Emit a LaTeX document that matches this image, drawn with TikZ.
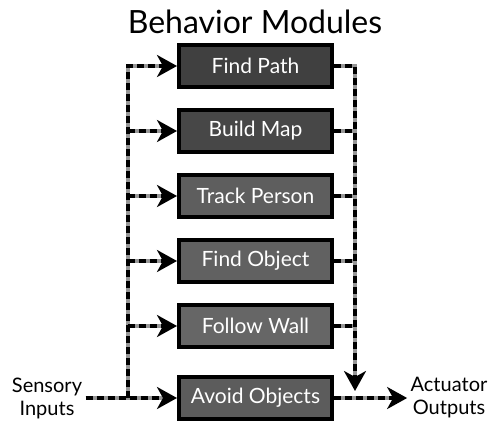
\documentclass[tikz,border=0pt]{standalone}
\usepackage{fontspec}
\setmainfont{Lato}
\usetikzlibrary{arrows.meta, positioning}
\definecolor{wiregray}{RGB}{150, 150, 150}

\begin{document}
\begin{tikzpicture}[x=1pt, y=-1pt,
            module/.style={draw=black, line width=4pt, fill=#1, minimum width=153pt, minimum height=42pt, text=white, font=\fontsize{21}{24}\selectfont},
            module/.default={black!72},
            label/.style={align=center, font=\fontsize{20}{23}\selectfont},
            wire/.style={draw=wiregray, line width=4.5pt, postaction={draw=black, line width=3.2pt, dash pattern=on 7pt off 4pt}},
            feed/.style={draw=wiregray, line width=4.5pt, shorten >=12pt, postaction={draw=black, line width=3.2pt, shorten >=0pt, dash pattern=on 7pt off 4pt, -{Stealth[length=20pt, width=22pt, inset=6pt]}}}
        ]
            \useasboundingbox (0,0) rectangle (490,424);
            \node[font=\fontsize{32}{36}\selectfont] (title) at (255,22) {Behavior Modules};

            % module stack
            \node[module=black!75] (findpath) at (255.5,66) {Find Path};
            \node[module=black!72, below=19pt of findpath] (buildmap) {Build Map};
            \node[module=black!63, below=19pt of buildmap] (trackperson) {Track Person};
            \node[module=black!62, below=19pt of trackperson] (findobject) {Find Object};
            \node[module=black!60, below=19pt of findobject] (followwall) {Follow Wall};
            \node[module=black!64, below=26pt of followwall] (avoidobjects) {Avoid Objects};

            \node[label] (inputs) at (47,398) {Sensory\\Inputs};
            \node[label] (outputs) at (449,398) {Actuator\\Outputs};

            \coordinate (lbus) at (128,398);
            \coordinate (rbus) at (355,398);
            \coordinate (rend) at (355,391);

            % sensory side
            \draw[feed] (inputs) -- (avoidobjects);
            \draw[feed] (lbus) |- (findpath.west);
            \foreach \m in {buildmap, trackperson, findobject, followwall}
                \draw[feed] (lbus |- \m.west) -- (\m.west);

            % actuator side
            \foreach \m in {buildmap, trackperson, findobject, followwall}
                \draw[wire] (\m.east) -- (rbus |- \m.east);
            \draw[feed] (findpath.east) -| (rend);
            \draw[feed] (avoidobjects) -- (outputs);
        \end{tikzpicture}
\end{document}
